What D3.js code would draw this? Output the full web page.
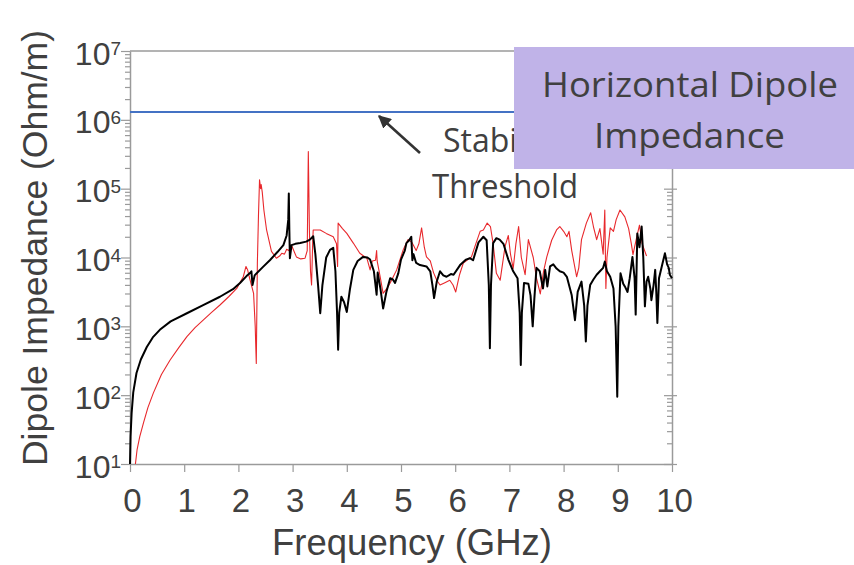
<!DOCTYPE html>
<html>
<head>
<meta charset="utf-8">
<script src="https://cdn.jsdelivr.net/npm/d3@7"></script>
<style>
  html, body { margin: 0; padding: 0; background: #ffffff; }
  svg { display: block; }
</style>
</head>
<body>
<svg id="chart" width="854" height="565"></svg>
<script>
// ---------- data ----------
const xTicks = [0, 1, 2, 3, 4, 5, 6, 7, 8, 9, 10];
const yMajorExp = [1, 2, 3, 4, 5, 6, 7];
const stabilityThreshold = 1.3e6;

// black trace (frequency GHz, impedance Ohm/m)
const blackFreq = [0.00,0.01,0.03,0.06,0.12,0.20,0.31,0.42,0.55,0.75,1.05,1.35,1.66,1.90,2.03,2.15,2.21,2.24,2.26,2.30,2.45,2.58,2.72,2.83,2.89,2.92,2.93,2.94,2.95,2.98,3.05,3.14,3.25,3.32,3.38,3.42,3.47,3.51,3.55,3.62,3.69,3.75,3.79,3.82,3.84,3.86,3.90,3.95,4.00,4.06,4.12,4.20,4.30,4.38,4.43,4.50,4.55,4.57,4.62,4.67,4.73,4.80,4.85,4.89,4.95,5.00,5.07,5.10,5.15,5.19,5.21,5.23,5.28,5.35,5.47,5.54,5.58,5.61,5.66,5.72,5.78,5.84,5.92,5.97,6.09,6.20,6.27,6.33,6.43,6.52,6.58,6.62,6.64,6.66,6.70,6.76,6.82,6.89,6.98,7.07,7.15,7.19,7.21,7.23,7.27,7.35,7.39,7.43,7.46,7.50,7.56,7.62,7.66,7.70,7.75,7.81,7.87,7.93,8.00,8.06,8.15,8.21,8.26,8.33,8.38,8.41,8.44,8.49,8.55,8.61,8.67,8.73,8.76,8.80,8.86,8.92,8.96,8.99,9.01,9.05,9.10,9.13,9.18,9.22,9.27,9.31,9.33,9.36,9.40,9.44,9.47,9.50,9.53,9.56,9.60,9.62,9.66,9.69,9.71,9.73,9.76,9.82,9.87,9.91,9.94,9.96,10.00];
const blackZ = [10,25,55,110,210,330,500,690,890,1180,1550,2040,2690,3470,4270,5370,5890,6310,3980,5500,7240,9120,12000,15100,20900,35500,85100,25100,9770,15100,15800,16200,17000,18200,20400,11200,3980,1550,3980,10000,12900,13800,6310,1580,457,1580,2690,2240,1620,3550,6610,8910,10200,10000,9330,6310,2880,6030,3550,1820,3160,5010,4790,4270,5890,9330,12600,16200,17800,20000,9120,11200,8320,7760,7410,6310,3980,2570,4470,6310,5500,5250,5750,5620,7760,9330,9770,9120,16600,20000,17800,3980,480,3980,16200,19100,18200,15800,9330,6310,5010,1580,275,1580,4270,4170,2820,1000,2510,7080,6310,3550,6610,3800,7410,7940,6920,6310,6030,5250,2820,1230,3160,4470,2000,603,2000,3980,4790,5620,6310,7080,8710,6310,5250,3550,1000,95,1000,5890,4170,3800,3160,5010,10200,5010,1480,22400,14100,28200,10000,1950,4470,5250,3550,2400,3980,6610,3160,1120,5010,7940,11500,7940,7080,5620,5010];

// red trace
const redFreq = [0.10,0.13,0.18,0.25,0.33,0.43,0.58,0.74,0.90,1.05,1.20,1.35,1.50,1.66,1.82,1.97,2.09,2.14,2.17,2.20,2.28,2.31,2.33,2.34,2.35,2.37,2.39,2.41,2.42,2.44,2.47,2.52,2.61,2.70,2.76,2.80,2.85,2.89,2.93,2.98,3.07,3.15,3.23,3.27,3.29,3.31,3.33,3.35,3.37,3.38,3.51,3.62,3.75,3.81,3.83,3.84,3.92,4.00,4.12,4.24,4.37,4.43,4.47,4.53,4.55,4.56,4.62,4.67,4.74,4.80,4.92,5.04,5.13,5.20,5.28,5.33,5.38,5.43,5.47,5.54,5.60,5.66,5.72,5.80,5.90,5.96,6.01,6.08,6.15,6.30,6.38,6.46,6.52,6.59,6.65,6.70,6.76,6.83,6.92,6.98,7.02,7.07,7.12,7.17,7.22,7.29,7.35,7.44,7.50,7.57,7.63,7.69,7.78,7.87,7.93,8.00,8.06,8.10,8.15,8.24,8.28,8.33,8.42,8.50,8.55,8.61,8.67,8.73,8.76,8.78,8.80,8.86,8.92,8.97,9.04,9.13,9.20,9.25,9.28,9.35,9.40,9.45,9.53];
const redZ = [10,16,25,40,66,107,200,324,490,708,955,1230,1580,2040,2690,3550,5250,7410,6610,5250,3020,1000,288,1580,8320,39800,135000,100000,115000,89100,49000,25100,12300,9770,10500,11500,11200,13200,12600,15100,10200,9550,9770,12600,347000,25100,6310,3980,15800,25100,25100,22400,20000,15800,7410,31600,26300,22400,16200,11500,9770,6610,8910,9120,12600,8910,5010,3020,3550,4270,6610,12900,18200,16600,12600,15800,26900,14100,10200,8910,6030,4680,3980,4270,4680,3980,3160,5620,8320,10200,15800,24000,25100,31600,28200,15800,5890,4680,14500,20900,11200,6920,15800,28200,10000,5620,18200,10000,5010,2950,6310,10200,17800,25100,28200,24000,20000,24000,12600,5250,7080,18200,31600,44700,28200,18200,26300,11200,49000,3550,10000,26900,24000,35500,49000,38900,26300,15800,11000,20000,29500,15800,10500];

// ---------- layout ----------
const plotLeft = 130, plotRight = 672, plotTop = 51, plotBottom = 464;
const textColor = "#404040";
const axisColor = "#9a9a9a";
const svg = d3.select("#chart");

const x = d3.scaleLinear().domain([0, 10]).range([plotLeft, plotRight]);
const y = d3.scaleLog().domain([10, 1e7]).range([plotBottom, plotTop]);

const majors = yMajorExp.map(e => Math.pow(10, e));
const minors = [];
yMajorExp.slice(0, -1).forEach(e => { for (let k = 2; k <= 9; k++) minors.push(k * Math.pow(10, e)); });

function styleAxis(g) {
  g.selectAll("path, line").attr("stroke", axisColor).attr("stroke-width", 1.2);
}

// top border
svg.append("line").attr("x1", plotLeft).attr("x2", plotRight).attr("y1", plotTop).attr("y2", plotTop)
  .attr("stroke", axisColor).attr("stroke-width", 1.5);

// left axis: minor ticks
svg.append("g").attr("transform", `translate(${plotLeft},0)`)
  .call(d3.axisLeft(y).tickValues(minors).tickSize(5).tickSizeOuter(0).tickFormat(""))
  .call(styleAxis).call(g => g.select(".domain").attr("stroke-width", 1.5));
// left axis: major ticks
svg.append("g").attr("transform", `translate(${plotLeft},0)`)
  .call(d3.axisLeft(y).tickValues(majors).tickSize(9).tickSizeOuter(0).tickFormat(""))
  .call(styleAxis).call(g => g.select(".domain").remove());

// right axis: inward ticks
svg.append("g").attr("transform", `translate(${plotRight},0)`)
  .call(d3.axisLeft(y).tickValues(minors).tickSize(5).tickSizeOuter(0).tickFormat(""))
  .call(styleAxis).call(g => g.select(".domain").attr("stroke-width", 1.5));
svg.append("g").attr("transform", `translate(${plotRight},0)`)
  .call(d3.axisLeft(y).tickValues(majors).tickSize(8).tickSizeOuter(0).tickFormat(""))
  .call(styleAxis).call(g => g.select(".domain").remove());
svg.append("g").attr("transform", `translate(${plotRight},0)`)
  .call(d3.axisRight(y).tickValues(majors).tickSize(5).tickSizeOuter(0).tickFormat(""))
  .call(styleAxis).call(g => g.select(".domain").remove());

// y tick labels 10^n
const yLab = svg.append("g").selectAll("text").data(yMajorExp).join("text")
  .attr("x", 121).attr("y", d => y(Math.pow(10, d)) + 13.5)
  .attr("text-anchor", "end")
  .attr("font-family", "'Liberation Sans', Arial, sans-serif")
  .attr("fill", textColor);
yLab.append("tspan").attr("font-size", 32).text("10");
yLab.append("tspan").attr("font-size", 19).attr("dy", -9.5).text(d => d);

// x axis
const xAxisG = svg.append("g").attr("transform", `translate(0,${plotBottom})`)
  .call(d3.axisBottom(x).tickValues(xTicks).tickSize(8).tickSizeOuter(0).tickFormat(d3.format("d")))
  .call(styleAxis);
xAxisG.select(".domain").attr("stroke-width", 1.5);
xAxisG.selectAll("text")
  .attr("y", 48).attr("dy", 0).attr("dx", 2)
  .attr("font-size", 33)
  .attr("font-family", "'Liberation Sans', Arial, sans-serif")
  .attr("fill", textColor);

// axis titles
svg.append("text")
  .attr("x", 412).attr("y", 555).attr("text-anchor", "middle")
  .attr("font-family", "'Liberation Sans', Arial, sans-serif").attr("font-size", 36.5)
  .attr("fill", textColor).text("Frequency (GHz)");
svg.append("text")
  .attr("transform", "translate(47,248) rotate(-90)").attr("text-anchor", "middle")
  .attr("font-family", "'Liberation Sans', Arial, sans-serif").attr("font-size", 35.5)
  .attr("fill", textColor).text("Dipole Impedance (Ohm/m)");

// curves
const line = d3.line().x(d => x(d[0])).y(d => y(d[1]));
svg.append("path").datum(d3.zip(redFreq, redZ))
  .attr("d", line).attr("fill", "none").attr("stroke", "#e8282c").attr("stroke-width", 1.1)
  .attr("stroke-linejoin", "round");
svg.append("path").datum(d3.zip(blackFreq, blackZ))
  .attr("d", line).attr("fill", "none").attr("stroke", "#000000").attr("stroke-width", 2)
  .attr("stroke-linejoin", "round");

// threshold line
svg.append("line")
  .attr("x1", x(0)).attr("x2", x(10))
  .attr("y1", y(stabilityThreshold)).attr("y2", y(stabilityThreshold))
  .attr("stroke", "#4472c4").attr("stroke-width", 2);

// arrow
const defs = svg.append("defs");
defs.append("marker").attr("id", "head").attr("viewBox", "0 0 10 10")
  .attr("refX", 9).attr("refY", 5).attr("markerWidth", 5).attr("markerHeight", 5)
  .attr("orient", "auto").attr("markerUnits", "strokeWidth")
  .append("path").attr("d", "M0,0 L10,5 L0,10 z").attr("fill", "#333");
svg.append("line")
  .attr("x1", 420).attr("y1", 153).attr("x2", 379).attr("y2", 116)
  .attr("stroke", "#333").attr("stroke-width", 2.6).attr("marker-end", "url(#head)");

// annotation text
const annoFont = "'Open Sans', 'Noto Sans', sans-serif";
svg.append("text").attr("x", 443).attr("y", 152)
  .attr("font-family", annoFont).attr("font-size", 32).attr("fill", textColor)
  .attr("textLength", 118).attr("lengthAdjust", "spacingAndGlyphs").text("Stability");
svg.append("text").attr("x", 432).attr("y", 198)
  .attr("font-family", annoFont).attr("font-size", 32).attr("fill", textColor)
  .attr("textLength", 146).attr("lengthAdjust", "spacingAndGlyphs").text("Threshold");

// title box
svg.append("rect").attr("x", 514).attr("y", 47).attr("width", 340).attr("height", 122)
  .attr("fill", "#c0b3e8");
svg.append("text").attr("x", 542).attr("y", 97)
  .attr("font-family", annoFont).attr("font-size", 35).attr("fill", textColor)
  .attr("textLength", 296).attr("lengthAdjust", "spacingAndGlyphs").text("Horizontal Dipole");
svg.append("text").attr("x", 594).attr("y", 148)
  .attr("font-family", annoFont).attr("font-size", 35).attr("fill", textColor)
  .attr("textLength", 191).attr("lengthAdjust", "spacingAndGlyphs").text("Impedance");
</script>
</body>
</html>
